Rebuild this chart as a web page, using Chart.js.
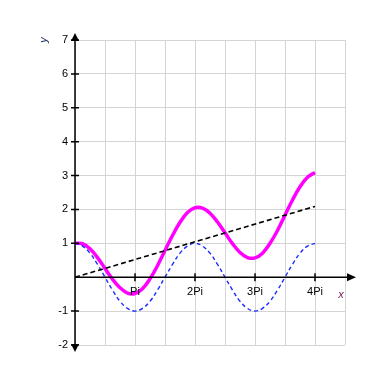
<!DOCTYPE html>
<html>
<head>
<meta charset="utf-8">
<script src="https://cdn.jsdelivr.net/npm/chart.js@4/dist/chart.umd.min.js"></script>
<style>
  html, body { margin: 0; padding: 0; background: #fff; }
</style>
</head>
<body>
<canvas id="plot" width="384" height="384"></canvas>
<script>
// x positions in multiples of Pi
const xs = [0, 0.125, 0.25, 0.375, 0.5, 0.625, 0.75, 0.875, 1, 1.125, 1.25, 1.375, 1.5, 1.625, 1.75, 1.875, 2,
  2.125, 2.25, 2.375, 2.5, 2.625, 2.75, 2.875, 3, 3.125, 3.25, 3.375, 3.5, 3.625, 3.75, 3.875, 4];
const blueWave = [1, 0.92, 0.71, 0.38, 0, -0.38, -0.71, -0.92, -1, -0.92, -0.71, -0.38, 0, 0.38, 0.71, 0.92, 1,
  0.92, 0.71, 0.38, 0, -0.38, -0.71, -0.92, -1, -0.92, -0.71, -0.38, 0, 0.38, 0.71, 0.92, 1];
const magentaWave = [1, 0.99, 0.84, 0.58, 0.26, -0.06, -0.31, -0.47, -0.48, -0.34, -0.05, 0.34, 0.79, 1.23, 1.62, 1.91, 2.05,
  2.04, 1.89, 1.63, 1.31, 0.99, 0.73, 0.58, 0.57, 0.71, 1.0, 1.38, 1.83, 2.28, 2.67, 2.95, 3.09];
const lineX = [0, 4];
const lineY = [0, 2.09];
const xTicks = [1, 2, 3, 4];
const xTickLabels = ['Pi', '2Pi', '3Pi', '4Pi'];
const yTicks = [7, 6, 5, 4, 3, 2, 1, -1, -2];

const pts = (a, b) => a.map((v, i) => ({ x: v, y: b[i] }));

const axesPlugin = {
  id: 'axes',
  afterDatasetsDraw(chart) {
    const { ctx, scales: { x, y } } = chart;
    const x0 = x.getPixelForValue(0);
    const y0 = y.getPixelForValue(0);
    const top = y.getPixelForValue(7);
    const bot = y.getPixelForValue(-2);
    const right = x.getPixelForValue(4.5);
    ctx.save();
    ctx.strokeStyle = '#000';
    ctx.fillStyle = '#000';
    ctx.lineWidth = 1.5;
    ctx.beginPath();
    ctx.moveTo(x0, top - 4); ctx.lineTo(x0, bot + 4);
    ctx.moveTo(x0, y0); ctx.lineTo(right + 4, y0);
    // ticks
    yTicks.forEach(v => {
      const p = y.getPixelForValue(v);
      ctx.moveTo(x0 - 4, p); ctx.lineTo(x0 + 4, p);
    });
    xTicks.forEach(v => {
      const p = x.getPixelForValue(v);
      ctx.moveTo(p, y0 - 4); ctx.lineTo(p, y0 + 4);
    });
    ctx.stroke();
    // arrows
    ctx.beginPath();
    ctx.moveTo(x0, top - 7); ctx.lineTo(x0 - 4, top + 1); ctx.lineTo(x0 + 4, top + 1); ctx.closePath();
    ctx.moveTo(x0, bot + 7); ctx.lineTo(x0 - 4, bot - 1); ctx.lineTo(x0 + 4, bot - 1); ctx.closePath();
    ctx.moveTo(right + 11, y0); ctx.lineTo(right + 2, y0 - 4); ctx.lineTo(right + 2, y0 + 4); ctx.closePath();
    ctx.fill();
    // labels
    ctx.font = '11px "Liberation Sans", Arial, sans-serif';
    ctx.textAlign = 'right';
    ctx.textBaseline = 'middle';
    yTicks.forEach(v => ctx.fillText(String(v), x0 - 7, y.getPixelForValue(v)));
    ctx.textAlign = 'center';
    ctx.textBaseline = 'top';
    xTicks.forEach((v, i) => ctx.fillText(xTickLabels[i], x.getPixelForValue(v), y0 + 9));
    ctx.font = 'italic 11px "Liberation Sans", Arial, sans-serif';
    ctx.fillStyle = '#802060';
    ctx.fillText('x', right - 4, y0 + 12);
    ctx.fillStyle = '#203060';
    ctx.translate(x0 - 31, top);
    ctx.rotate(-Math.PI / 2);
    ctx.textBaseline = 'middle';
    ctx.fillText('y', 0, 0);
    ctx.restore();
  }
};

new Chart(document.getElementById('plot'), {
  type: 'line',
  data: {
    datasets: [
      { data: pts(lineX, lineY), borderColor: '#000', borderWidth: 1.6, borderDash: [5, 3], pointRadius: 0 },
      { data: pts(xs, blueWave), borderColor: '#1a2cff', borderWidth: 1.4, borderDash: [4, 3], pointRadius: 0, tension: 0.4 },
      { data: pts(xs, magentaWave), borderColor: '#ff00ff', borderWidth: 3.5, pointRadius: 0, tension: 0.4 }
    ]
  },
  options: {
    responsive: false,
    animation: false,
    layout: { padding: { left: 75, top: 40, right: 39, bottom: 39 } },
    plugins: { legend: { display: false }, tooltip: { enabled: false } },
    scales: {
      x: {
        type: 'linear', min: 0, max: 4.5,
        ticks: { display: false, stepSize: 0.5 },
        grid: { color: '#d4d4d4', drawTicks: false, lineWidth: 1 },
        border: { display: false }
      },
      y: {
        min: -2, max: 7,
        ticks: { display: false, stepSize: 1 },
        grid: { color: '#d4d4d4', drawTicks: false, lineWidth: 1 },
        border: { display: false }
      }
    }
  },
  plugins: [axesPlugin]
});
</script>
</body>
</html>
